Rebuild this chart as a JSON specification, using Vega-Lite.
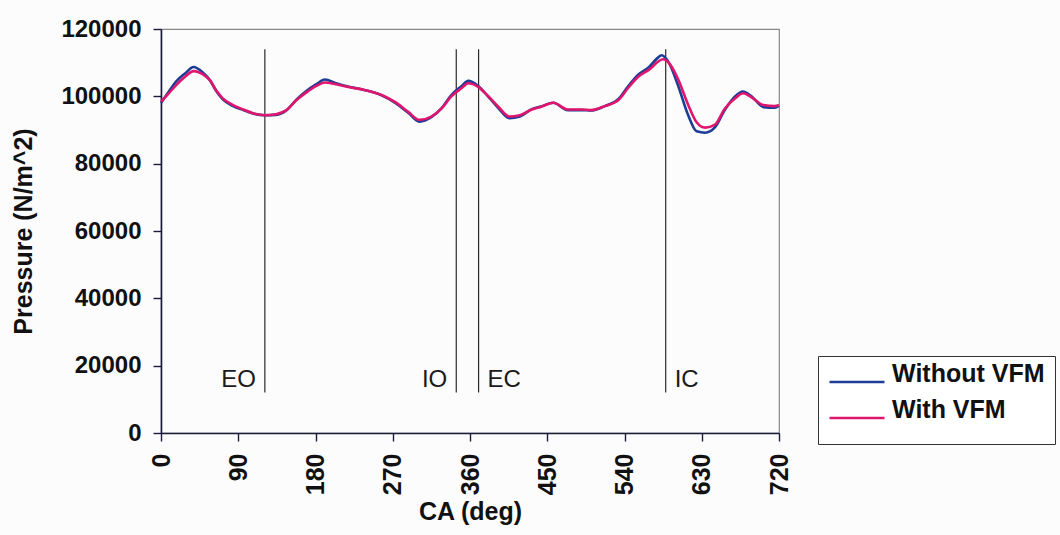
{
  "$schema": "https://vega.github.io/schema/vega-lite/v6.json",
  "width": 618,
  "height": 404,
  "autosize": {"type": "none"},
  "padding": {"left": 161, "top": 29, "right": 281, "bottom": 102},
  "background": "#fcfcfc",
  "datasets": {
    "curves": [
      {"ca": 0, "pressure": 98000, "series": "Without VFM"},
      {"ca": 8, "pressure": 101000, "series": "Without VFM"},
      {"ca": 18, "pressure": 104500, "series": "Without VFM"},
      {"ca": 28, "pressure": 106800, "series": "Without VFM"},
      {"ca": 38, "pressure": 108700, "series": "Without VFM"},
      {"ca": 49, "pressure": 107000, "series": "Without VFM"},
      {"ca": 57, "pressure": 104800, "series": "Without VFM"},
      {"ca": 64, "pressure": 101700, "series": "Without VFM"},
      {"ca": 72, "pressure": 99100, "series": "Without VFM"},
      {"ca": 84, "pressure": 97100, "series": "Without VFM"},
      {"ca": 96, "pressure": 95900, "series": "Without VFM"},
      {"ca": 107, "pressure": 94900, "series": "Without VFM"},
      {"ca": 121, "pressure": 94400, "series": "Without VFM"},
      {"ca": 134, "pressure": 94500, "series": "Without VFM"},
      {"ca": 146, "pressure": 95800, "series": "Without VFM"},
      {"ca": 158, "pressure": 99100, "series": "Without VFM"},
      {"ca": 169, "pressure": 101500, "series": "Without VFM"},
      {"ca": 181, "pressure": 103600, "series": "Without VFM"},
      {"ca": 191, "pressure": 105000, "series": "Without VFM"},
      {"ca": 204, "pressure": 103900, "series": "Without VFM"},
      {"ca": 220, "pressure": 102800, "series": "Without VFM"},
      {"ca": 237, "pressure": 101900, "series": "Without VFM"},
      {"ca": 257, "pressure": 100300, "series": "Without VFM"},
      {"ca": 272, "pressure": 98200, "series": "Without VFM"},
      {"ca": 288, "pressure": 95100, "series": "Without VFM"},
      {"ca": 301, "pressure": 92500, "series": "Without VFM"},
      {"ca": 315, "pressure": 93800, "series": "Without VFM"},
      {"ca": 327, "pressure": 96500, "series": "Without VFM"},
      {"ca": 338, "pressure": 100300, "series": "Without VFM"},
      {"ca": 350, "pressure": 103000, "series": "Without VFM"},
      {"ca": 358, "pressure": 104600, "series": "Without VFM"},
      {"ca": 369, "pressure": 103200, "series": "Without VFM"},
      {"ca": 381, "pressure": 100000, "series": "Without VFM"},
      {"ca": 393, "pressure": 96500, "series": "Without VFM"},
      {"ca": 406, "pressure": 93500, "series": "Without VFM"},
      {"ca": 418, "pressure": 94000, "series": "Without VFM"},
      {"ca": 432, "pressure": 96200, "series": "Without VFM"},
      {"ca": 443, "pressure": 97000, "series": "Without VFM"},
      {"ca": 457, "pressure": 98100, "series": "Without VFM"},
      {"ca": 474, "pressure": 95900, "series": "Without VFM"},
      {"ca": 490, "pressure": 95900, "series": "Without VFM"},
      {"ca": 501, "pressure": 95800, "series": "Without VFM"},
      {"ca": 517, "pressure": 97100, "series": "Without VFM"},
      {"ca": 533, "pressure": 99200, "series": "Without VFM"},
      {"ca": 544, "pressure": 102900, "series": "Without VFM"},
      {"ca": 556, "pressure": 106400, "series": "Without VFM"},
      {"ca": 568, "pressure": 108600, "series": "Without VFM"},
      {"ca": 579, "pressure": 111500, "series": "Without VFM"},
      {"ca": 583, "pressure": 112200, "series": "Without VFM"},
      {"ca": 591, "pressure": 110300, "series": "Without VFM"},
      {"ca": 602, "pressure": 103500, "series": "Without VFM"},
      {"ca": 614, "pressure": 94500, "series": "Without VFM"},
      {"ca": 624, "pressure": 89600, "series": "Without VFM"},
      {"ca": 634, "pressure": 89200, "series": "Without VFM"},
      {"ca": 645, "pressure": 90700, "series": "Without VFM"},
      {"ca": 657, "pressure": 96000, "series": "Without VFM"},
      {"ca": 669, "pressure": 100000, "series": "Without VFM"},
      {"ca": 678, "pressure": 101400, "series": "Without VFM"},
      {"ca": 688, "pressure": 100000, "series": "Without VFM"},
      {"ca": 702, "pressure": 96800, "series": "Without VFM"},
      {"ca": 715, "pressure": 96600, "series": "Without VFM"},
      {"ca": 720, "pressure": 97200, "series": "Without VFM"},
      {"ca": 0, "pressure": 98400, "series": "With VFM"},
      {"ca": 8, "pressure": 100600, "series": "With VFM"},
      {"ca": 18, "pressure": 103400, "series": "With VFM"},
      {"ca": 28, "pressure": 105800, "series": "With VFM"},
      {"ca": 38, "pressure": 107500, "series": "With VFM"},
      {"ca": 49, "pressure": 106500, "series": "With VFM"},
      {"ca": 57, "pressure": 104800, "series": "With VFM"},
      {"ca": 64, "pressure": 101900, "series": "With VFM"},
      {"ca": 72, "pressure": 99400, "series": "With VFM"},
      {"ca": 84, "pressure": 97400, "series": "With VFM"},
      {"ca": 96, "pressure": 96100, "series": "With VFM"},
      {"ca": 107, "pressure": 95000, "series": "With VFM"},
      {"ca": 121, "pressure": 94400, "series": "With VFM"},
      {"ca": 134, "pressure": 94700, "series": "With VFM"},
      {"ca": 146, "pressure": 95900, "series": "With VFM"},
      {"ca": 158, "pressure": 98900, "series": "With VFM"},
      {"ca": 169, "pressure": 101100, "series": "With VFM"},
      {"ca": 181, "pressure": 103100, "series": "With VFM"},
      {"ca": 191, "pressure": 104100, "series": "With VFM"},
      {"ca": 204, "pressure": 103600, "series": "With VFM"},
      {"ca": 220, "pressure": 102700, "series": "With VFM"},
      {"ca": 237, "pressure": 101900, "series": "With VFM"},
      {"ca": 257, "pressure": 100400, "series": "With VFM"},
      {"ca": 272, "pressure": 98400, "series": "With VFM"},
      {"ca": 288, "pressure": 95400, "series": "With VFM"},
      {"ca": 301, "pressure": 93000, "series": "With VFM"},
      {"ca": 315, "pressure": 94000, "series": "With VFM"},
      {"ca": 327, "pressure": 96400, "series": "With VFM"},
      {"ca": 338, "pressure": 99900, "series": "With VFM"},
      {"ca": 350, "pressure": 102400, "series": "With VFM"},
      {"ca": 358, "pressure": 103900, "series": "With VFM"},
      {"ca": 369, "pressure": 102900, "series": "With VFM"},
      {"ca": 381, "pressure": 100100, "series": "With VFM"},
      {"ca": 393, "pressure": 96900, "series": "With VFM"},
      {"ca": 406, "pressure": 94000, "series": "With VFM"},
      {"ca": 418, "pressure": 94400, "series": "With VFM"},
      {"ca": 432, "pressure": 96100, "series": "With VFM"},
      {"ca": 443, "pressure": 96900, "series": "With VFM"},
      {"ca": 457, "pressure": 98100, "series": "With VFM"},
      {"ca": 474, "pressure": 96100, "series": "With VFM"},
      {"ca": 490, "pressure": 96100, "series": "With VFM"},
      {"ca": 501, "pressure": 95900, "series": "With VFM"},
      {"ca": 517, "pressure": 97100, "series": "With VFM"},
      {"ca": 533, "pressure": 98900, "series": "With VFM"},
      {"ca": 544, "pressure": 102400, "series": "With VFM"},
      {"ca": 556, "pressure": 105800, "series": "With VFM"},
      {"ca": 568, "pressure": 107800, "series": "With VFM"},
      {"ca": 585, "pressure": 111000, "series": "With VFM"},
      {"ca": 593, "pressure": 109500, "series": "With VFM"},
      {"ca": 603, "pressure": 104800, "series": "With VFM"},
      {"ca": 614, "pressure": 97600, "series": "With VFM"},
      {"ca": 624, "pressure": 92300, "series": "With VFM"},
      {"ca": 634, "pressure": 90700, "series": "With VFM"},
      {"ca": 645, "pressure": 91500, "series": "With VFM"},
      {"ca": 657, "pressure": 96400, "series": "With VFM"},
      {"ca": 669, "pressure": 99400, "series": "With VFM"},
      {"ca": 678, "pressure": 100900, "series": "With VFM"},
      {"ca": 688, "pressure": 99700, "series": "With VFM"},
      {"ca": 702, "pressure": 97400, "series": "With VFM"},
      {"ca": 715, "pressure": 97100, "series": "With VFM"},
      {"ca": 720, "pressure": 97400, "series": "With VFM"}
    ],
    "events": [
      {"ca": 121, "label": "EO", "side": "before"},
      {"ca": 344, "label": "IO", "side": "before"},
      {"ca": 370, "label": "EC", "side": "after"},
      {"ca": 588, "label": "IC", "side": "after"}
    ]
  },
  "encoding": {
    "x": {
      "field": "ca",
      "type": "quantitative",
      "title": "CA (deg)",
      "scale": {"domain": [0, 720], "nice": false, "zero": false},
      "axis": {
        "values": [0, 90, 180, 270, 360, 450, 540, 630, 720],
        "labelAngle": 270,
        "labelFontSize": 25,
        "labelPadding": 12,
        "titlePadding": 5
      }
    }
  },
  "layer": [
    {
      "data": {"name": "events"},
      "mark": {"type": "rule", "color": "#2a2a2a", "strokeWidth": 1.2},
      "encoding": {
        "y": {"datum": 12000, "type": "quantitative", "title": "Pressure (N/m^2)"},
        "y2": {"datum": 114000}
      }
    },
    {
      "data": {"name": "curves"},
      "mark": {"type": "line", "strokeWidth": 2.6, "interpolate": "monotone"},
      "encoding": {
        "y": {
          "field": "pressure",
          "type": "quantitative",
          "title": "Pressure (N/m^2)",
          "scale": {"domain": [0, 120000], "nice": false},
          "axis": {
            "values": [0, 20000, 40000, 60000, 80000, 100000, 120000],
            "format": "d",
            "labelFontSize": 24,
            "labelPadding": 12,
            "titlePadding": 24
          }
        },
        "color": {
          "field": "series",
          "type": "nominal",
          "sort": ["Without VFM", "With VFM"],
          "scale": {"domain": ["Without VFM", "With VFM"], "range": ["#1c3c96", "#e0166e"]},
          "legend": {
            "title": null,
            "orient": "none",
            "legendX": 657,
            "legendY": 327,
            "strokeColor": "#333333",
            "fillColor": "#ffffff",
            "padding": 10,
            "symbolType": "stroke",
            "symbolSize": 3025,
            "symbolStrokeWidth": 2.6,
            "labelFont": "Liberation Sans",
            "labelFontWeight": "bold",
            "labelFontSize": 25,
            "labelColor": "#111111",
            "labelBaseline": "alphabetic",
            "labelOffset": 6,
            "clipHeight": 32,
            "rowPadding": 0
          }
        },
        "detail": {"field": "series"}
      }
    },
    {
      "data": {"name": "events"},
      "transform": [{"filter": "datum.side == 'before'"}],
      "mark": {"type": "text", "align": "right", "baseline": "middle", "dx": -9, "fontSize": 24, "font": "Liberation Sans", "color": "#1a1a1a"},
      "encoding": {
        "y": {"datum": 15700, "type": "quantitative", "title": "Pressure (N/m^2)"},
        "text": {"field": "label"}
      }
    },
    {
      "data": {"name": "events"},
      "transform": [{"filter": "datum.side == 'after'"}],
      "mark": {"type": "text", "align": "left", "baseline": "middle", "dx": 9, "fontSize": 24, "font": "Liberation Sans", "color": "#1a1a1a"},
      "encoding": {
        "y": {"datum": 15700, "type": "quantitative", "title": "Pressure (N/m^2)"},
        "text": {"field": "label"}
      }
    }
  ],
  "config": {
    "view": {"stroke": "#888888", "strokeWidth": 1.2},
    "axis": {
      "grid": false,
      "domainColor": "#1a1a3a",
      "domainWidth": 1.6,
      "tickColor": "#1a1a3a",
      "tickWidth": 1.4,
      "tickSize": 8,
      "labelFont": "Liberation Sans",
      "labelFontWeight": "bold",
      "labelColor": "#111111",
      "titleFont": "Liberation Sans",
      "titleFontWeight": "bold",
      "titleFontSize": 25,
      "titleColor": "#111111"
    }
  }
}
